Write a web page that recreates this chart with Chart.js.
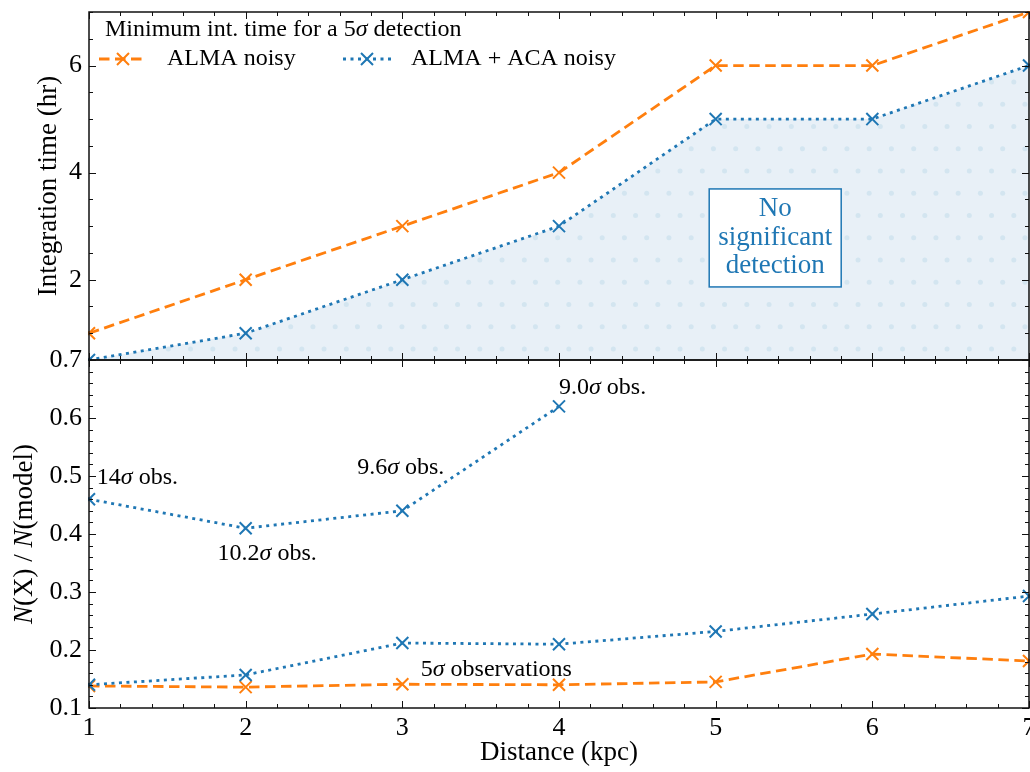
<!DOCTYPE html>
<html>
<head>
<meta charset="utf-8">
<script src="https://cdn.jsdelivr.net/npm/chart.js@4.4.0/dist/chart.umd.min.js"></script>
<style>
  html, body { margin: 0; padding: 0; background: #fff; }
  #wrap { position: relative; width: 1030px; height: 772px; overflow: hidden; }
  #top { position: absolute; left: 0; top: 0; }
  #bot { position: absolute; left: 0; top: 320px; }
</style>
</head>
<body>
<div id="wrap">
  <canvas id="top" width="1030" height="372"></canvas>
  <canvas id="bot" width="1030" height="452"></canvas>
</div>
<script>
// datos del grafico
const distance = [1, 2, 3, 4, 5, 6, 7];
const timeAlma = [1, 2, 3, 4, 6, 6, 7];
const timeAlmaAca = [0.5, 1, 2, 3, 5, 5, 6];
const ratioAcaHigh = [0.46, 0.41, 0.44, 0.62];          // distancias 1-4
const sigmaHigh = ['14', '10.2', '9.6', '9.0'];
const ratioAca5 = [0.14, 0.157, 0.212, 0.21, 0.232, 0.262, 0.293];
const ratioAlma5 = [0.138, 0.136, 0.141, 0.14, 0.145, 0.193, 0.181];
const xTicks = [1, 2, 3, 4, 5, 6, 7];
const topTicks = [2, 4, 6];
const botTicks = [0.1, 0.2, 0.3, 0.4, 0.5, 0.6, 0.7];

const FONT = '"Liberation Serif", "DejaVu Serif", serif';
const BLUE = '#1f77b4';
const ORANGE = '#ff7f0e';
const DASH = [10.5, 5.5];
const DOT = [3, 4.5];
const LW = 2.8;

function pts(xs, ys) {
    return ys.map(function (y, i) { return { x: xs[i], y: y }; });
}

// patron de puntos para el area sombreada
function dotPattern() {
    const c = document.createElement('canvas');
    c.width = 89; c.height = 89;
    const g = c.getContext('2d');
    g.fillStyle = '#e8f0f7';
    g.fillRect(0, 0, 89, 89);
    g.fillStyle = '#d3e5f0';
    for (let k = 0; k < 4; k++) {
        const y = 15.25 + k * 22.25;
        const off = (k % 2 === 1) ? 12.55 : 1.43;
        for (let j = -1; j < 5; j++) {
            g.beginPath();
            g.arc(off + j * 22.25, y, 2.5, 0, Math.PI * 2);
            g.fill();
        }
    }
    return g.createPattern(c, 'repeat');
}

// texto con partes en cursiva
function mixText(ctx, parts, x, y, size, align) {
    const widths = parts.map(function (p) {
        ctx.font = (p[1] ? 'italic ' : '') + size + 'px ' + FONT;
        return ctx.measureText(p[0]).width;
    });
    const total = widths.reduce(function (a, b) { return a + b; }, 0);
    let cx = align === 'center' ? x - total / 2 : x;
    ctx.textAlign = 'left';
    parts.forEach(function (p, i) {
        ctx.font = (p[1] ? 'italic ' : '') + size + 'px ' + FONT;
        ctx.fillText(p[0], cx, y);
        cx += widths[i];
    });
}

function legendItem(ctx, x, y, color, dash, label) {
    ctx.save();
    ctx.strokeStyle = color;
    ctx.lineWidth = LW;
    ctx.setLineDash(dash);
    ctx.beginPath(); ctx.moveTo(x, y); ctx.lineTo(x + 48, y); ctx.stroke();
    ctx.setLineDash([]);
    ctx.lineWidth = 2;
    const c = x + 24, r = 6;
    ctx.beginPath();
    ctx.moveTo(c - r, y - r); ctx.lineTo(c + r, y + r);
    ctx.moveTo(c - r, y + r); ctx.lineTo(c + r, y - r);
    ctx.stroke();
    ctx.fillStyle = '#000';
    ctx.font = '24px ' + FONT;
    ctx.textBaseline = 'middle';
    ctx.textAlign = 'left';
    ctx.fillText(label, x + 68, y);
    ctx.restore();
}

// marco y ticks hacia adentro
function drawFrame(chart, yMin, yStep, yCount, majors) {
    const ctx = chart.ctx, a = chart.chartArea, sx = chart.scales.x, sy = chart.scales.y;
    ctx.save();
    ctx.strokeStyle = '#111';
    ctx.lineWidth = 1;
    function seg(x1, y1, x2, y2) { ctx.beginPath(); ctx.moveTo(x1, y1); ctx.lineTo(x2, y2); ctx.stroke(); }
    for (let i = 0; i <= 30; i++) {
        const len = (i % 5 === 0) ? 7 : 4;
        const px = Math.round(sx.getPixelForValue(1 + i * 0.2)) + 0.5;
        seg(px, a.bottom, px, a.bottom - len);
        seg(px, a.top, px, a.top + len);
    }
    for (let i = 0; i <= yCount; i++) {
        const v = yMin + i * yStep;
        const major = majors.some(function (m) { return Math.abs(m - v) < 1e-6; });
        const len = major ? 7 : 4;
        const py = Math.round(sy.getPixelForValue(v)) + 0.5;
        seg(a.left, py, a.left + len, py);
        seg(a.right, py, a.right - len, py);
    }
    ctx.lineWidth = 1.5;
    ctx.strokeRect(a.left, a.top, a.right - a.left, a.bottom - a.top);
    ctx.restore();
}

function lineSet(data, color, dash, extra) {
    return Object.assign({
        data: data,
        borderColor: color,
        backgroundColor: color,
        borderWidth: LW,
        borderDash: dash,
        pointStyle: 'crossRot',
        pointRadius: 8.5,
        pointBorderWidth: 2,
        pointBorderColor: color,
        fill: false,
        tension: 0,
        clip: 1
    }, extra || {});
}

function yAxis(min, max, ticksArr, fmt) {
    return {
        type: 'linear', min: min, max: max,
        afterBuildTicks: function (s) { s.ticks = ticksArr.map(function (v) { return { value: v }; }); },
        afterFit: function (s) { s.width = 89; s.paddingTop = 0; s.paddingBottom = 0; },
        grid: { display: false, drawTicks: false },
        border: { display: false },
        ticks: { font: { family: FONT, size: 26 }, color: '#000', padding: 7, callback: fmt }
    };
}

Chart.defaults.font.family = FONT;

// ---------------- panel superior ----------------
const topPlugin = {
    id: 'topDeco',
    afterDraw: function (chart) {
        const ctx = chart.ctx, sx = chart.scales.x, sy = chart.scales.y;
        drawFrame(chart, 0.5, 0.5, 13, topTicks);
        ctx.save();
        // titulo del eje y
        ctx.fillStyle = '#000';
        ctx.textBaseline = 'middle';
        ctx.translate(49, (chart.chartArea.top + chart.chartArea.bottom) / 2);
        ctx.rotate(-Math.PI / 2);
        mixText(ctx, [['Integration time (hr)', false]], 0, 0, 27, 'center');
        ctx.restore();

        // leyenda
        ctx.save();
        ctx.fillStyle = '#000';
        ctx.textBaseline = 'middle';
        mixText(ctx, [['Minimum int. time for a 5', false], ['σ', true], [' detection', false]], 105, 30, 24, 'left');
        ctx.restore();
        legendItem(ctx, 99, 59, ORANGE, DASH, 'ALMA noisy');
        legendItem(ctx, 343, 59, BLUE, DOT, 'ALMA + ACA noisy');

        // caja de texto
        const cx = sx.getPixelForValue(5.38), cy = sy.getPixelForValue(2.78);
        ctx.save();
        ctx.fillStyle = '#fff';
        ctx.strokeStyle = BLUE;
        ctx.lineWidth = 1.5;
        ctx.fillRect(cx - 66, cy - 49, 132, 98);
        ctx.strokeRect(cx - 66, cy - 49, 132, 98);
        ctx.fillStyle = BLUE;
        ctx.font = '27px ' + FONT;
        ctx.textAlign = 'center';
        ctx.textBaseline = 'middle';
        ctx.fillText('No', cx, cy - 29);
        ctx.fillText('significant', cx, cy);
        ctx.fillText('detection', cx, cy + 28);
        ctx.restore();
    }
};

new Chart(document.getElementById('top'), {
    type: 'line',
    data: {
        datasets: [
            lineSet(pts(distance, timeAlma), ORANGE, DASH),
            lineSet(pts(distance, timeAlmaAca), BLUE, DOT, { fill: 'start', backgroundColor: dotPattern() })
        ]
    },
    options: {
        responsive: false,
        animation: false,
        layout: { autoPadding: false, padding: { top: 12, left: 0, right: 1, bottom: 0 } },
        plugins: { legend: { display: false }, tooltip: { enabled: false } },
        scales: {
            x: {
                type: 'linear', min: 1, max: 7,
                afterBuildTicks: function (s) { s.ticks = xTicks.map(function (v) { return { value: v }; }); },
                afterFit: function (s) { s.height = 12; s.paddingLeft = 0; s.paddingRight = 0; },
                ticks: { display: false },
                grid: { display: false },
                border: { display: false }
            },
            y: yAxis(0.5, 7, topTicks, function (v) { return String(v); })
        }
    },
    plugins: [topPlugin]
});

// ---------------- panel inferior ----------------
const botPlugin = {
    id: 'botDeco',
    afterDraw: function (chart) {
        const ctx = chart.ctx, sx = chart.scales.x, sy = chart.scales.y;
        drawFrame(chart, 0.1, 0.02, 30, botTicks);

        ctx.save();
        ctx.fillStyle = '#000';
        ctx.textBaseline = 'middle';
        ctx.translate(25, (chart.chartArea.top + chart.chartArea.bottom) / 2);
        ctx.rotate(-Math.PI / 2);
        mixText(ctx, [['N', true], ['(X) / ', false], ['N', true], ['(model)', false]], 0, 0, 27, 'center');
        ctx.restore();

        // anotaciones sigma
        const notes = [[1.05, 0.497, 'left'], [2.137, 0.366, 'center'], [2.99, 0.514, 'center'], [4.0, 0.653, 'left']];
        ctx.save();
        ctx.fillStyle = '#000';
        ctx.textBaseline = 'middle';
        notes.forEach(function (n, i) {
            mixText(ctx, [[sigmaHigh[i], false], ['σ', true], [' obs.', false]],
                sx.getPixelForValue(n[0]), sy.getPixelForValue(n[1]), 24, n[2]);
        });
        mixText(ctx, [['5', false], ['σ', true], [' observations', false]],
            sx.getPixelForValue(3.6), sy.getPixelForValue(0.166), 24, 'center');
        ctx.restore();

        legendItem(ctx, 740, 514, BLUE, DOT, 'ALMA + ACA noisy');
        legendItem(ctx, 740, 549, ORANGE, DASH, 'ALMA noisy');
    }
};

new Chart(document.getElementById('bot'), {
    type: 'line',
    data: {
        datasets: [
            lineSet(pts(distance, ratioAcaHigh), BLUE, DOT),
            lineSet(pts(distance, ratioAca5), BLUE, DOT),
            lineSet(pts(distance, ratioAlma5), ORANGE, DASH)
        ]
    },
    options: {
        responsive: false,
        animation: false,
        layout: { autoPadding: false, padding: { top: 40, left: 0, right: 1, bottom: 0 } },
        plugins: { legend: { display: false }, tooltip: { enabled: false } },
        scales: {
            x: {
                type: 'linear', min: 1, max: 7,
                afterBuildTicks: function (s) { s.ticks = xTicks.map(function (v) { return { value: v }; }); },
                afterFit: function (s) { s.height = 64; s.paddingLeft = 0; s.paddingRight = 0; },
                grid: { display: false, drawTicks: false },
                border: { display: false },
                ticks: { font: { family: FONT, size: 26 }, color: '#000', padding: 5, maxRotation: 0, autoSkip: false },
                title: { display: true, text: 'Distance (kpc)', color: '#000', font: { family: FONT, size: 27 }, padding: { top: 0, bottom: 3 } }
            },
            y: yAxis(0.1, 0.7, botTicks, function (v) { return v.toFixed(1); })
        }
    },
    plugins: [botPlugin]
});
</script>
</body>
</html>
